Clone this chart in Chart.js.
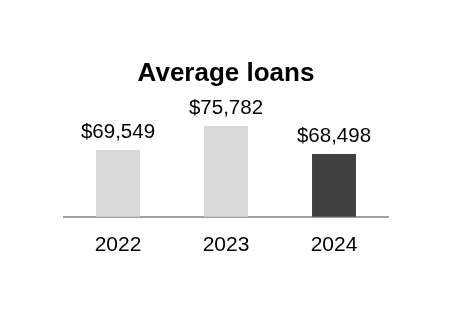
<!DOCTYPE html>
<html>
<head>
<meta charset="utf-8">
<script src="https://cdn.jsdelivr.net/npm/chart.js@4"></script>
<style>
  html, body { margin: 0; padding: 0; background: #fff; }
  #wrap { width: 452px; height: 320px; }
</style>
</head>
<body>
<div id="wrap"><canvas id="chartjs-0" width="452" height="320"></canvas></div>
<script>
// chart data
var years = ["2022", "2023", "2024"];
var avgLoans = [69549, 75782, 68498];
var barColors = ["#d9d9d9", "#d9d9d9", "#404040"];
var yMin = 52150;
var yMax = 82750;

var FONT = "'Liberation Sans', Arial, sans-serif";

// draw the $ value over each bar
var valueLabels = {
    id: "valueLabels",
    afterDatasetsDraw: function (chart) {
        var ctx = chart.ctx;
        var meta = chart.getDatasetMeta(0);
        ctx.save();
        ctx.font = "20.5px " + FONT;
        ctx.fillStyle = "#000";
        ctx.textAlign = "center";
        ctx.textBaseline = "alphabetic";
        meta.data.forEach(function (bar, i) {
            var txt = "$" + avgLoans[i].toLocaleString("en-US");
            ctx.fillText(txt, bar.x, bar.y - 12);
        });
        ctx.restore();
    }
};

var ctx = document.getElementById("chartjs-0");

var myChart = new Chart(ctx, {
    type: "bar",
    data: {
        labels: years,
        datasets: [{
            data: avgLoans,
            backgroundColor: barColors,
            borderWidth: 0,
            categoryPercentage: 1,
            barPercentage: 0.407
        }]
    },
    options: {
        responsive: false,
        animation: false,
        layout: { padding: { left: 64, right: 64, top: 0, bottom: 46 } },
        plugins: {
            legend: { display: false },
            tooltip: { enabled: false },
            title: {
                display: true,
                text: "Average loans",
                color: "#000",
                font: { family: FONT, size: 26, weight: "bold" },
                padding: { top: 58, bottom: 10 }
            }
        },
        scales: {
            x: {
                grid: { display: false, drawTicks: false },
                border: { display: true, color: "#a0a0a0", width: 2 },
                ticks: { color: "#000", padding: 16, font: { family: FONT, size: 21 } }
            },
            y: {
                display: false,
                min: yMin,
                max: yMax
            }
        }
    },
    plugins: [valueLabels]
});
</script>
</body>
</html>
